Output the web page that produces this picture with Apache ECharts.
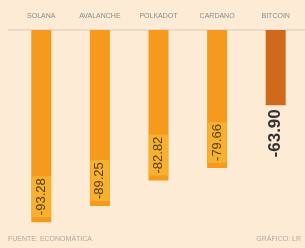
<!DOCTYPE html>
<html><head><meta charset="utf-8">
<script src="https://cdn.jsdelivr.net/npm/echarts@6/dist/echarts.min.js"></script>
<style>html,body{margin:0;padding:0;background:#fdebd6;}#c{width:305px;height:248px;}</style>
</head><body><div id="c"></div>
<script>
const categories = ['SOLANA', 'AVALANCHE', 'POLKADOT', 'CARDANO', 'BITCOIN'];
const values = [-93.28, -89.25, -82.82, -79.66, -63.90];
const source = 'FUENTE: ECONOMÁTICA';
const credit = 'GRÁFICO: LR';

const chart = echarts.init(document.getElementById('c'), null, {renderer: 'canvas'});
const data = values.map((v, i) => {
  const last = i === values.length - 1;
  return {
    value: v,
    itemStyle: {color: last ? '#cf6a1d' : '#f59a1c'},
    label: last ? {
      show: true, position: 'bottom', rotate: 90, align: 'right', verticalAlign: 'middle',
      distance: 4, fontSize: 17, fontWeight: 'bold', color: '#333', fontFamily: 'Liberation Sans',
      formatter: p => p.value.toFixed(2)
    } : {
      show: true, position: 'insideBottom', rotate: 90, align: 'left', verticalAlign: 'middle',
      distance: 5, fontSize: 13, color: '#5a3a10', fontFamily: 'Liberation Sans Narrow, Liberation Sans',
      backgroundColor: '#f6b22e', padding: [3, 2],
      formatter: p => p.value.toFixed(2)
    }
  };
});
chart.setOption({
  backgroundColor: '#fdebd6',
  animation: false,
  grid: {left: 12, top: 30, width: 295, height: 199, containLabel: false},
  xAxis: {
    type: 'category', data: categories, position: 'top',
    axisLine: {show: false}, axisTick: {show: false},
    axisLabel: {fontSize: 7, color: '#8a8a8a', margin: 10, fontFamily: 'Liberation Sans Narrow, Liberation Sans'}
  },
  yAxis: {
    type: 'value', min: -95, max: -45, show: false, splitLine: {show: false}
  },
  series: [{type: 'bar', data: data, barWidth: 20, clip: true}],
  graphic: [
    {type: 'line', shape: {x1: 8, y1: 30, x2: 305, y2: 30}, style: {stroke: '#e2d6c6', lineWidth: 1.5}, z: 0},
    {type: 'text', left: 8, top: 236, style: {text: source, fontSize: 7, fill: '#b0a89c', fontFamily: 'Liberation Sans'}},
    {type: 'text', right: 4, top: 236, style: {text: credit, fontSize: 7, fill: '#b0a89c', fontFamily: 'Liberation Sans'}}
  ]
});
</script></body></html>
